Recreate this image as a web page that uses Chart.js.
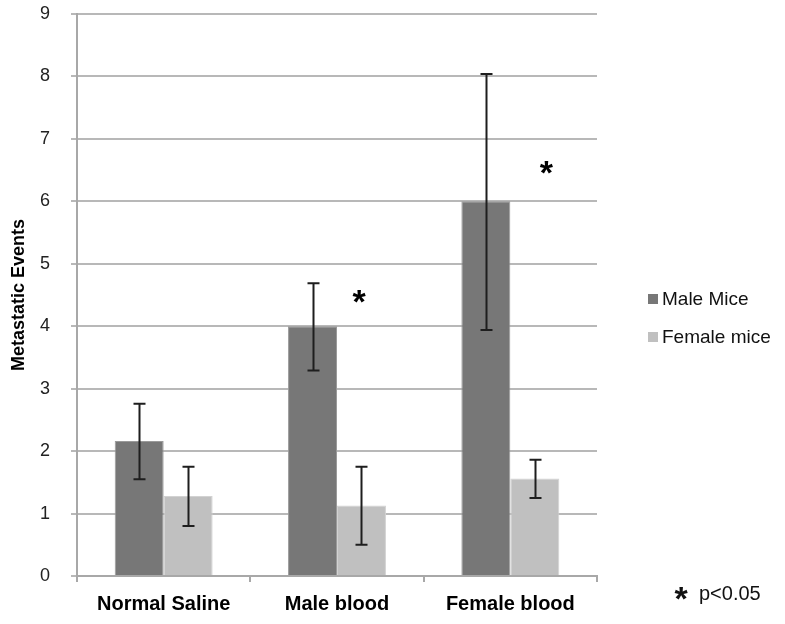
<!DOCTYPE html>
<html>
<head>
<meta charset="utf-8">
<script src="https://cdn.jsdelivr.net/npm/chart.js@4"></script>
<style>
  html, body { margin: 0; padding: 0; background: #fff; }
  #wrap { width: 785px; height: 624px; }
</style>
</head>
<body>
<div id="wrap"><canvas id="grafico" width="785" height="624"></canvas></div>
<script>
"use strict";

// ---- datos ----
const categorias = ["Normal Saline", "Male blood", "Female blood"];
const machos = [2.16, 4.0, 6.0];
const machosBajo = [1.55, 3.29, 3.94];
const machosAlto = [2.76, 4.69, 8.04];
const hembras = [1.28, 1.13, 1.56];
const hembrasBajo = [0.80, 0.50, 1.25];
const hembrasAlto = [1.75, 1.75, 1.86];
const yTicks = [0, 1, 2, 3, 4, 5, 6, 7, 8, 9];
const asteriscos = [ { cat: 1, y: 4.47, dx: 22 }, { cat: 2, y: 6.54, dx: 36 } ];

const FUENTE = "'Liberation Sans', Arial, sans-serif";

// barras de error
const barrasError = {
  id: "barrasError",
  afterDatasetsDraw(chart) {
    const { ctx } = chart;
    const y = chart.scales.y;
    const limites = [[machosBajo, machosAlto], [hembrasBajo, hembrasAlto]];
    ctx.save();
    ctx.strokeStyle = "#1e1e1e";
    ctx.lineWidth = 2;
    limites.forEach(([bajo, alto], d) => {
      chart.getDatasetMeta(d).data.forEach((bar, i) => {
        const x = Math.round(bar.x) + 0.5;
        const y1 = y.getPixelForValue(bajo[i]);
        const y2 = y.getPixelForValue(alto[i]);
        ctx.beginPath();
        ctx.moveTo(x, y1); ctx.lineTo(x, y2);
        ctx.moveTo(x - 6, y1); ctx.lineTo(x + 6, y1);
        ctx.moveTo(x - 6, y2); ctx.lineTo(x + 6, y2);
        ctx.stroke();
      });
    });
    ctx.restore();
  }
};

// asteriscos, leyenda y nota
const anotaciones = {
  id: "anotaciones",
  afterDraw(chart) {
    const { ctx } = chart;
    const xs = chart.scales.x, ys = chart.scales.y;
    ctx.save();
    ctx.fillStyle = "#000";
    ctx.textBaseline = "middle";
    ctx.textAlign = "center";
    ctx.font = "bold 34px " + FUENTE;
    asteriscos.forEach(a => {
      ctx.fillText("*", xs.getPixelForValue(a.cat) + a.dx, ys.getPixelForValue(a.y) + 7);
    });

    // leyenda
    const items = [["Male Mice", "#777777"], ["Female mice", "#c0c0c0"]];
    ctx.textAlign = "left";
    ctx.font = "19px " + FUENTE;
    items.forEach(([txt, col], i) => {
      const yy = 299 + i * 38;
      ctx.fillStyle = col;
      ctx.fillRect(648, yy - 5, 10, 10);
      ctx.fillStyle = "#111";
      ctx.fillText(txt, 662, yy + 1);
    });

    // nota p<0.05
    ctx.font = "bold 34px " + FUENTE;
    ctx.textAlign = "center";
    ctx.fillText("*", 681, 601);
    ctx.font = "20px " + FUENTE;
    ctx.textAlign = "left";
    ctx.fillText("p<0.05", 699, 594);
    ctx.restore();
  }
};

new Chart(document.getElementById("grafico"), {
  type: "bar",
  data: {
    labels: categorias,
    datasets: [
      {
        label: "Male Mice",
        data: machos,
        backgroundColor: "#777777",
        borderColor: "#9a9a9a",
        borderWidth: 1
      },
      {
        label: "Female mice",
        data: hembras,
        backgroundColor: "#c0c0c0",
        borderColor: "#d2d2d2",
        borderWidth: 1
      }
    ]
  },
  options: {
    responsive: false,
    animation: false,
    layout: { padding: { top: 14, right: 188, bottom: 0, left: 0 } },
    datasets: { bar: { categoryPercentage: 0.565, barPercentage: 1.0 } },
    plugins: { legend: { display: false }, tooltip: { enabled: false } },
    scales: {
      x: {
        afterFit(s) { s.height = 48; s.paddingLeft = 0; s.paddingRight = 0; },
        grid: { offset: true, drawOnChartArea: false, drawTicks: true, tickLength: 6, color: "#a8a8a8", lineWidth: 2 },
        border: { color: "#a8a8a8", width: 2 },
        ticks: { color: "#000", padding: 10, font: { family: FUENTE, size: 20, weight: "bold" } }
      },
      y: {
        min: 0,
        max: 9,
        afterFit(s) { s.width = 77; s.paddingTop = 0; s.paddingBottom = 0; },
        afterBuildTicks(s) { s.ticks = yTicks.map(v => ({ value: v })); },
        grid: { color: "#b8b8b8", lineWidth: 2, tickLength: 6 },
        border: { color: "#a8a8a8", width: 2 },
        ticks: { color: "#222", padding: 21, font: { family: FUENTE, size: 18 } },
        title: {
          display: true,
          text: "Metastatic Events",
          color: "#000",
          padding: { top: 8, bottom: 0 },
          font: { family: FUENTE, size: 18, weight: "bold" }
        }
      }
    }
  },
  plugins: [barrasError, anotaciones]
});
</script>
</body>
</html>
